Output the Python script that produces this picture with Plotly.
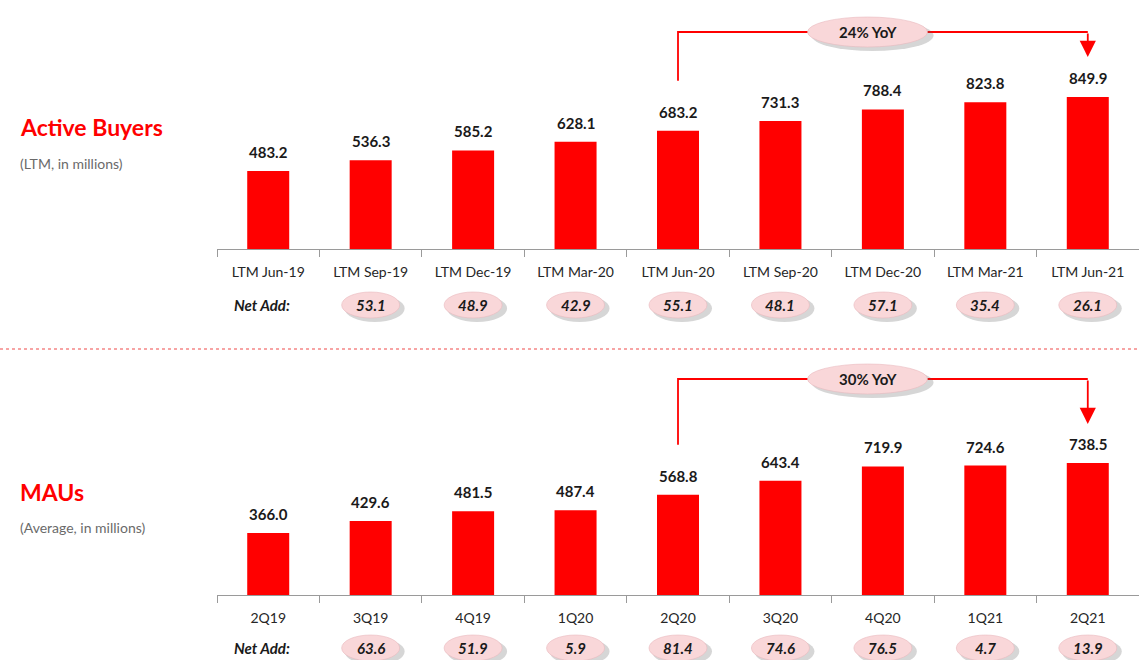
import plotly.graph_objects as go

W, H = 1139, 660

# ---------------- data ----------------
buyers_cats = ["LTM Jun-19", "LTM Sep-19", "LTM Dec-19", "LTM Mar-20", "LTM Jun-20",
               "LTM Sep-20", "LTM Dec-20", "LTM Mar-21", "LTM Jun-21"]
buyers_vals = [483.2, 536.3, 585.2, 628.1, 683.2, 731.3, 788.4, 823.8, 849.9]
buyers_net_add = [None, 53.1, 48.9, 42.9, 55.1, 48.1, 57.1, 35.4, 26.1]

mau_cats = ["2Q19", "3Q19", "4Q19", "1Q20", "2Q20", "3Q20", "4Q20", "1Q21", "2Q21"]
mau_vals = [366.0, 429.6, 481.5, 487.4, 568.8, 643.4, 719.9, 724.6, 738.5]
mau_net_add = [None, 63.6, 51.9, 5.9, 81.4, 74.6, 76.5, 4.7, 13.9]

yoy_labels = ["24% YoY", "30% YoY"]
titles = ["Active Buyers", "MAUs"]
subtitles = ["(LTM, in millions)", "(Average, in millions)"]

# ---------------- style ----------------
FONT = "Lato"
RED = "#ff0000"
PINK = "#f9d7d9"
PINK_LINE = "#e9b9bd"
SHADOW = "rgba(90,90,90,0.25)"
AXIS = "#9a9a9a"
TXT = "#1a1a1a"


def py(p):
    return 1 - p / H


panels = [
    dict(cats=buyers_cats, vals=buyers_vals, net=buyers_net_add, x="x", y="y",
         xa="xaxis", ya="yaxis", base_px=249, top_px=0, v0=97.0, k=0.2018,
         row_px=305, level_px=32, start_off=50, tip_off=40, title_px=127,
         sub_px=163, yoy=yoy_labels[0], title=titles[0], sub=subtitles[0]),
    dict(cats=mau_cats, vals=mau_vals, net=mau_net_add, x="x2", y="y2",
         xa="xaxis2", ya="yaxis2", base_px=595, top_px=360, v0=36.0, k=0.188,
         row_px=648, level_px=379, start_off=50, tip_off=39, title_px=492,
         sub_px=527, yoy=yoy_labels[1], title=titles[1], sub=subtitles[1]),
]

fig = go.Figure()
shapes = []
annotations = []
layout_axes = {}

for p in panels:
    fig.add_trace(go.Bar(
        x=p["cats"], y=p["vals"], xaxis=p["x"], yaxis=p["y"],
        marker=dict(color=RED, line=dict(width=0)), width=0.41,
        showlegend=False, hoverinfo="x+y", cliponaxis=False,
    ))
    span = (p["base_px"] - p["top_px"]) / p["k"]
    layout_axes[p["xa"]] = dict(
        type="category", domain=[217 / W, 1], range=[-0.5, 8.5],
        showline=True, linecolor=AXIS, linewidth=1, showgrid=False, zeroline=False,
        ticks="outside", tickson="boundaries", ticklen=7, tickcolor=AXIS,
        tickfont=dict(family=FONT, size=14, color="#262626"),
        ticklabelstandoff=10, anchor=p["y"], fixedrange=True,
    )
    layout_axes[p["ya"]] = dict(
        domain=[py(p["base_px"]), py(p["top_px"])],
        range=[p["v0"], p["v0"] + span], visible=False, anchor=p["x"],
        fixedrange=True,
    )

    # value labels
    for c, v in zip(p["cats"], p["vals"]):
        annotations.append(dict(
            x=c, y=v, xref=p["x"], yref=p["y"], text=f"<b>{v:.1f}</b>",
            showarrow=False, xanchor="center", yanchor="bottom", yshift=8,
            font=dict(family=FONT, size=15, color=TXT)))

    # Net Add row
    row_y = py(p["row_px"])
    annotations.append(dict(
        x=262 / W, y=row_y, xref="paper", yref="paper", text="<b><i>Net Add:</i></b>",
        xanchor="center", yanchor="middle",
        showarrow=False, font=dict(family=FONT, size=15, color=TXT)))
    for i, n in enumerate(p["net"]):
        if n is None:
            continue
        shapes.append(dict(type="circle", xref=p["x"], yref="paper",
                           xsizemode="pixel", ysizemode="pixel", xanchor=i, yanchor=row_y,
                           x0=-26, x1=34, y0=-17, y1=10, fillcolor=SHADOW,
                           line=dict(width=0), layer="above"))
        shapes.append(dict(type="circle", xref=p["x"], yref="paper",
                           xsizemode="pixel", ysizemode="pixel", xanchor=i, yanchor=row_y,
                           x0=-29, x1=29, y0=-13, y1=13, fillcolor=PINK,
                           line=dict(width=0.6, color=PINK_LINE), layer="above"))
        annotations.append(dict(
            x=i, y=row_y, xref=p["x"], yref="paper", text=f"<b><i>{n:.1f}</i></b>",
            xanchor="center", yanchor="middle",
            showarrow=False, font=dict(family=FONT, size=15, color=TXT)))

    # YoY bracket
    k, v0, base = p["k"], p["v0"], p["base_px"]
    start = p["vals"][4] + p["start_off"] / k
    level = v0 + (base - p["level_px"]) / k
    tip = p["vals"][8] + p["tip_off"] / k
    shapes.append(dict(type="path", xref=p["x"], yref=p["y"],
                       path=f"M 4,{start} L 4,{level} L 8,{level}",
                       line=dict(color=RED, width=1.8), layer="above"))
    annotations.append(dict(
        x=8, y=tip, ax=8, ay=level, xref=p["x"], yref=p["y"], axref=p["x"], ayref=p["y"],
        text="", showarrow=True, arrowhead=2, arrowsize=1.8, arrowwidth=1.8,
        arrowcolor=RED, standoff=0))
    shapes.append(dict(type="circle", xref=p["x"], yref=p["y"],
                       xsizemode="pixel", ysizemode="pixel", xanchor=5.85, yanchor=level,
                       x0=-56, x1=66, y0=-19, y1=12, fillcolor=SHADOW,
                       line=dict(width=0), layer="above"))
    shapes.append(dict(type="circle", xref=p["x"], yref=p["y"],
                       xsizemode="pixel", ysizemode="pixel", xanchor=5.85, yanchor=level,
                       x0=-60, x1=60, y0=-15, y1=15, fillcolor=PINK,
                       line=dict(width=0.6, color=PINK_LINE), layer="above"))
    annotations.append(dict(
        x=5.85, y=level, xref=p["x"], yref=p["y"], text=f"<b>{p['yoy']}</b>",
        xanchor="center", yanchor="middle",
        showarrow=False, font=dict(family=FONT, size=15, color=TXT)))

    # Titles
    annotations.append(dict(
        x=18 / W, y=py(p["title_px"]), xref="paper", yref="paper", xanchor="left",
        yanchor="middle", text=f"<b>{p['title']}</b>", showarrow=False,
        font=dict(family=FONT, size=23, color=RED)))
    annotations.append(dict(
        x=18 / W, y=py(p["sub_px"]), xref="paper", yref="paper", xanchor="left",
        yanchor="middle", text=p["sub"], showarrow=False,
        font=dict(family=FONT, size=14, color="#6a6a6a")))

# dotted separator
shapes.append(dict(type="line", xref="paper", yref="paper", x0=0, x1=1,
                   y0=py(349), y1=py(349),
                   line=dict(color="rgba(240,90,90,0.55)", width=2, dash="dot")))

fig.update_layout(
    width=W, height=H, margin=dict(l=0, r=0, t=0, b=0),
    paper_bgcolor="white", plot_bgcolor="white",
    shapes=shapes, annotations=annotations, bargap=0.59,
    font=dict(family=FONT), **layout_axes,
)

fig.write_html(
    "out.html",
    config={"displayModeBar": False},
    post_script="document.body.style.margin='0';document.body.style.overflow='hidden';",
)
